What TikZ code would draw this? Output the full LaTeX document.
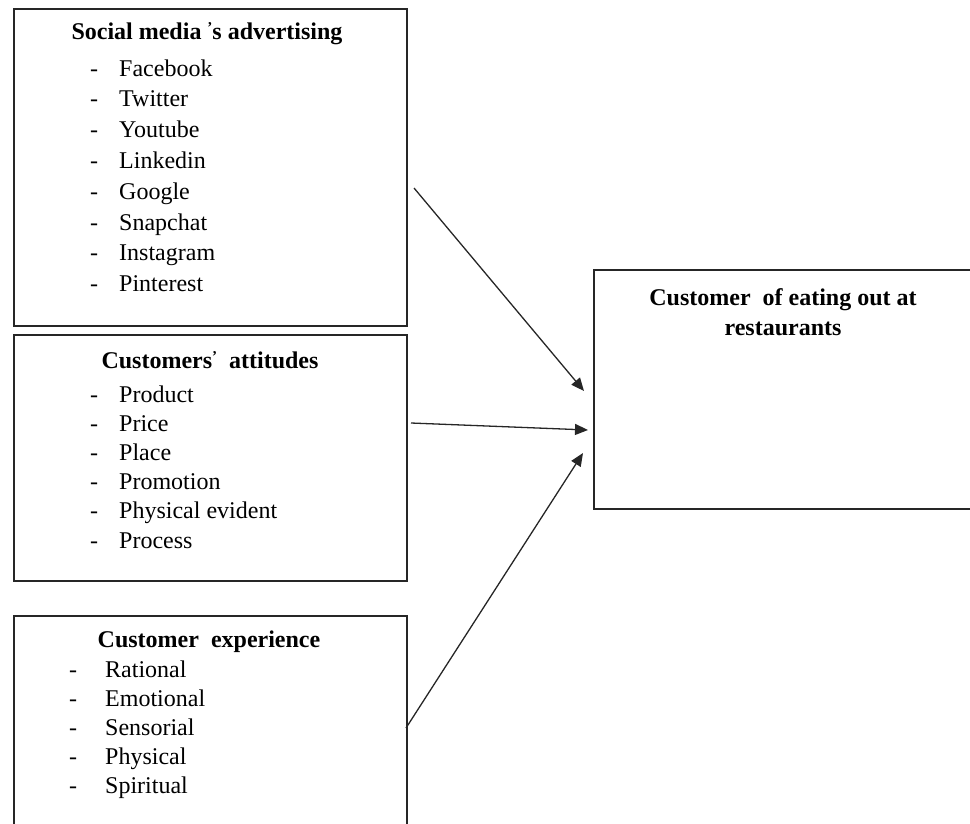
\documentclass[tikz,border=0pt]{standalone}
\usepackage{fontspec}
\setmainfont{Liberation Serif}
\usetikzlibrary{arrows.meta}
\newcommand{\smallap}{\raisebox{0.55ex}{\fontsize{15}{15}\selectfont’}}
\begin{document}
\begin{tikzpicture}[x=1pt,y=-1pt,
  box/.style={draw=black!85,line width=1.5pt,anchor=north west,inner sep=0pt},
  ttl/.style={font=\fontsize{24}{28}\selectfont\bfseries,anchor=base,inner sep=0pt},
  itm/.style={font=\fontsize{24}{28}\selectfont,anchor=base west,inner sep=0pt},
  arr/.style={line width=1.3pt,draw=black!85,-{Triangle[length=13pt,width=11pt]}}]
\useasboundingbox (0,0) rectangle (970,823);
\clip (0,0) rectangle (970,823);
% boxes
\node[box,minimum width=393pt,minimum height=317pt] (b1) at (13,8) {};
\node[box,minimum width=393pt,minimum height=246pt] (b2) at (13,334) {};
\node[box,minimum width=393pt,minimum height=240pt] (b3) at (13,615) {};
\node[box,minimum width=400pt,minimum height=239pt] (b4) at (593,269) {};
% titles
\node[ttl] (t1) at (207,39) {Social media \smallap s advertising};
\node[ttl] (t2) at (210,368) {Customers\smallap~ attitudes};
\node[ttl] (t3) at (209,647) {Customer~ experience};
\node[ttl] (t4a) at (783,305) {Customer~ of eating out at};
\node[ttl] (t4b) at (783,335.5) {restaurants};
% items
\foreach \t [count=\i] in {Facebook,Twitter,Youtube,Linkedin,Google,Snapchat,Instagram,Pinterest}{
  \node[itm] (d1\i) at (90,{76+30.8*(\i-1)}) {-};
  \node[itm] (i1\i) at (119,{76+30.8*(\i-1)}) {\t};
}
\foreach \t [count=\i] in {Product,Price,Place,Promotion,Physical evident,Process}{
  \node[itm] (d2\i) at (90,{402+29.2*(\i-1)}) {-};
  \node[itm] (i2\i) at (119,{402+29.2*(\i-1)}) {\t};
}
\foreach \t [count=\i] in {Rational,Emotional,Sensorial,Physical,Spiritual}{
  \node[itm] (d3\i) at (69,{677+29*(\i-1)}) {-};
  \node[itm] (i3\i) at (105,{677+29*(\i-1)}) {\t};
}
% arrow end points
\coordinate (s1) at (414,188);
\coordinate (e1) at (584,391);
\coordinate (s2) at (411,423);
\coordinate (e2) at (588,430);
\coordinate (s3) at (406,728);
\coordinate (e3) at (583,453);
\draw[arr] (s1) -- (e1);
\draw[arr] (s2) -- (e2);
\draw[arr] (s3) -- (e3);
\end{tikzpicture}
\end{document}
